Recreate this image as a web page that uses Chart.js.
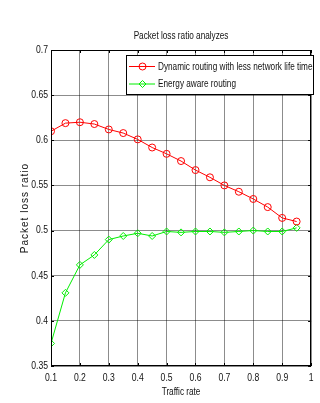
<!DOCTYPE html>
<html><head><meta charset="utf-8">
<script src="https://cdn.jsdelivr.net/npm/chart.js@4/dist/chart.umd.min.js"></script>
<style>html,body{margin:0;padding:0;background:#fff}#wrap{width:320px;height:403px}</style>
</head><body><div id="wrap"><canvas id="c" width="320" height="403"></canvas></div>
<script>
const trafficRate = [0.1,0.15,0.2,0.25,0.3,0.35,0.4,0.45,0.5,0.55,0.6,0.65,0.7,0.75,0.8,0.85,0.9,0.95];
const dynamicRouting = [0.610,0.619,0.620,0.618,0.612,0.608,0.601,0.592,0.585,0.577,0.567,0.559,0.550,0.543,0.535,0.526,0.514,0.510];
const energyAware = [0.375,0.431,0.462,0.473,0.490,0.494,0.497,0.494,0.499,0.498,0.499,0.499,0.498,0.499,0.500,0.499,0.499,0.503];
const xTicks = [0.1,0.2,0.3,0.4,0.5,0.6,0.7,0.8,0.9,1];
const yTicks = [0.35,0.4,0.45,0.5,0.55,0.6,0.65,0.7];
const seriesNames = ['Dynamic routing with less network life time','Energy aware routing'];
const chartTitle = 'Packet loss ratio analyzes';
const xTitle = 'Traffic rate';
const yTitle = 'Packet loss ratio';

const FONT = "'Liberation Sans',Arial,sans-serif";
const fmt = v => String(parseFloat(Number(v).toFixed(2)));

const canvas = document.getElementById('c');
const ctx2d = canvas.getContext('2d');
// emulate a narrow (Arial Narrow-like) face by compressing text horizontally around its anchor
const origFill = ctx2d.fillText.bind(ctx2d);
ctx2d.fillText = function(text, x, y, maxWidth) {
  this.save();
  this.translate(x, y);
  if (text === yTitle) {
    this.letterSpacing = '1px';
  } else {
    this.scale(0.82, 1);
  }
  if (maxWidth !== undefined) origFill(text, 0, 0, maxWidth / 0.82); else origFill(text, 0, 0);
  this.restore();
};

const framePlugin = {
  id: 'frame',
  afterDatasetsDraw(chart) {
    const {ctx, chartArea: a, scales} = chart;
    ctx.save();
    ctx.strokeStyle = '#000';
    ctx.lineWidth = 1;
    ctx.strokeRect(Math.round(a.left)+0.5, Math.round(a.top)+0.5, Math.round(a.right-a.left)-1, Math.round(a.bottom-a.top)-1);
    ctx.beginPath();
    xTicks.forEach(v => {
      const x = Math.round(scales.x.getPixelForValue(v)) + 0.5;
      ctx.moveTo(x, a.top); ctx.lineTo(x, a.top + 3);
      ctx.moveTo(x, a.bottom); ctx.lineTo(x, a.bottom - 3);
    });
    yTicks.forEach(v => {
      const y = Math.round(scales.y.getPixelForValue(v)) + 0.5;
      ctx.moveTo(a.left, y); ctx.lineTo(a.left + 3, y);
      ctx.moveTo(a.right, y); ctx.lineTo(a.right - 3, y);
    });
    ctx.stroke();

    // legend box inside plot, top-right
    const bx = 126.5, by = 55.5, bw = 187, bh = 39;
    ctx.fillStyle = '#fff';
    ctx.fillRect(bx, by, bw, bh);
    ctx.strokeStyle = '#000';
    ctx.strokeRect(bx, by, bw, bh);
    ctx.font = "10px " + FONT;
    ctx.textBaseline = 'middle';
    ctx.textAlign = 'left';
    chart.data.datasets.forEach((ds, i) => {
      const y = 66.5 + i * 17.5;
      ctx.strokeStyle = ds.borderColor;
      ctx.lineWidth = 1;
      ctx.beginPath(); ctx.moveTo(129, y); ctx.lineTo(155, y); ctx.stroke();
      ctx.fillStyle = 'rgba(0,0,0,0)';
      Chart.helpers.drawPoint(ctx, {pointStyle: ds.pointStyle, radius: ds.pointRadius, borderWidth: 1, rotation: 0}, 142.5, y);
      ctx.fillStyle = '#111';
      ctx.fillText(ds.label, 158, y + 0.5);
    });
    ctx.restore();
  }
};

new Chart(canvas, {
  type: 'line',
  data: {
    datasets: [
      {
        label: seriesNames[0],
        data: trafficRate.map((x, i) => ({x, y: dynamicRouting[i]})),
        borderColor: '#ff0000', backgroundColor: 'rgba(0,0,0,0)',
        borderWidth: 1, pointStyle: 'circle', pointRadius: 3.5,
        pointBorderColor: '#ff0000', pointBackgroundColor: 'rgba(0,0,0,0)', pointBorderWidth: 1
      },
      {
        label: seriesNames[1],
        data: trafficRate.map((x, i) => ({x, y: energyAware[i]})),
        borderColor: '#00ee00', backgroundColor: 'rgba(0,0,0,0)',
        borderWidth: 1, pointStyle: 'rectRot', pointRadius: 3.5,
        pointBorderColor: '#00ee00', pointBackgroundColor: 'rgba(0,0,0,0)', pointBorderWidth: 1
      }
    ]
  },
  plugins: [framePlugin],
  options: {
    responsive: false,
    animation: false,
    devicePixelRatio: 1,
    layout: {padding: {left: 0, right: 3.5, top: 0, bottom: 0}},
    plugins: {
      legend: {display: false},
      tooltip: {enabled: false},
      title: {
        display: true, text: chartTitle, color: '#111', fullSize: false,
        font: {family: FONT, size: 10, weight: 'normal'},
        padding: {top: 30, bottom: 8}
      }
    },
    scales: {
      x: {
        type: 'linear', min: 0.1, max: 1,
        afterBuildTicks: s => { s.ticks = xTicks.map(v => ({value: v})); },
        afterFit: s => { s.height = 37; },
        ticks: {callback: fmt, color: '#111', font: {family: FONT, size: 10.5}, padding: 6, maxRotation: 0, autoSkip: false},
        grid: {color: 'rgba(0,0,0,0.45)', lineWidth: 1, drawTicks: false},
        border: {display: false},
        title: {display: true, text: xTitle, color: '#111', font: {family: FONT, size: 10}, padding: {top: 0, bottom: 5}}
      },
      y: {
        type: 'linear', min: 0.35, max: 0.7,
        afterBuildTicks: s => { s.ticks = yTicks.map(v => ({value: v})); },
        afterFit: s => { s.width = 51; },
        ticks: {callback: fmt, color: '#111', font: {family: FONT, size: 10.5}, padding: 3, autoSkip: false},
        grid: {color: 'rgba(0,0,0,0.45)', lineWidth: 1, drawTicks: false},
        border: {display: false},
        title: {display: true, text: yTitle, color: '#111', font: {family: FONT, size: 10}, padding: {top: 19, bottom: 0}}
      }
    }
  }
});
</script>
</body></html>
